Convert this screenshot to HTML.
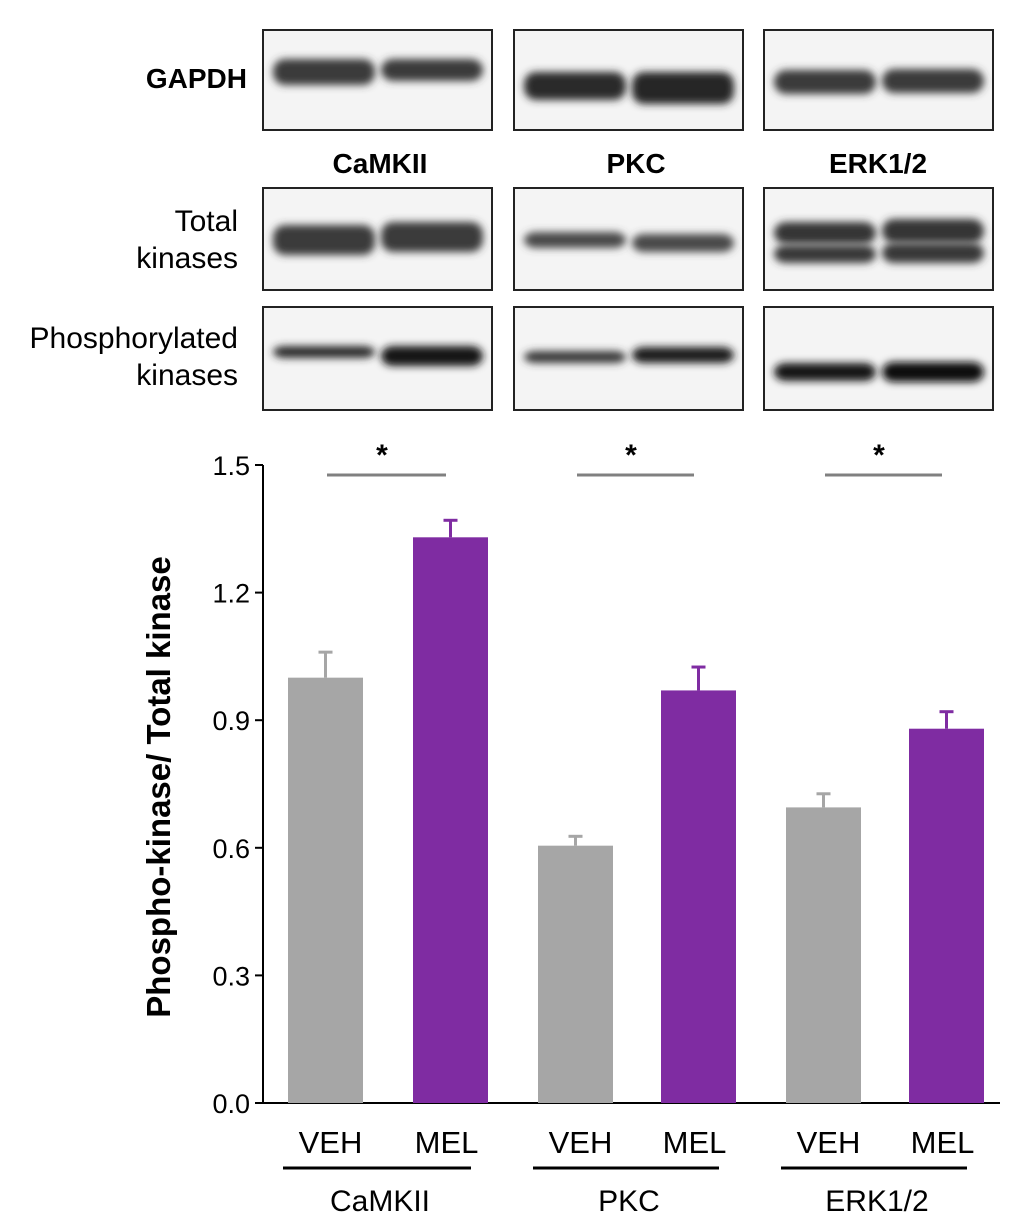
<!DOCTYPE html>
<html><head><meta charset="utf-8"><style>
body{margin:0;background:#fff;}
svg{display:block;}
text{font-family:"Liberation Sans",Arial,sans-serif;}
</style></head><body>
<svg width="1024" height="1219" viewBox="0 0 1024 1219">
<defs><filter id="bl" x="-20%" y="-100%" width="140%" height="300%"><feGaussianBlur stdDeviation="4"/></filter></defs>
<g id="blots"></g>
<g font-weight="bold" font-size="30" text-anchor="end">
<text x="247" y="88" font-size="28">GAPDH</text>
<text x="238" y="231" font-weight="normal">Total</text>
<text x="238" y="268" font-weight="normal">kinases</text>
<text x="238" y="348" font-weight="normal">Phosphorylated</text>
<text x="238" y="385" font-weight="normal">kinases</text>
</g>
<g font-weight="bold" font-size="28" text-anchor="middle">
<text x="380" y="173">CaMKII</text>
<text x="636" y="173">PKC</text>
<text x="878" y="173">ERK1/2</text>
</g>
<g id="chart"></g>
<text transform="translate(170,787) rotate(-90)" font-size="33" font-weight="bold" text-anchor="middle">Phospho-kinase/ Total kinase</text>
</svg>
<script>
const groups=["CaMKII","PKC","ERK1/2"];
const conditions=["VEH","MEL"];
const means=[1.0,1.33,0.605,0.97,0.695,0.88];
const errs=[0.06,0.04,0.022,0.055,0.032,0.04];
const ticks=[0,0.3,0.6,0.9,1.2,1.5];
const NS="http://www.w3.org/2000/svg";
function mk(t,a,p){const e=document.createElementNS(NS,t);for(const k in a)e.setAttribute(k,a[k]);p.appendChild(e);return e;}
const y=v=>1103-v*(638/1.5);
const barX=[288,413,538,661,786,909],bw=75;
const chart=document.getElementById('chart');
let ax=mk('line',{x1:263,y1:465,x2:263,y2:1103,stroke:'#000','stroke-width':2},chart);


let xa=mk('line',{x1:263,y1:1103,x2:1000,y2:1103,stroke:'#000','stroke-width':2},chart);


ticks.forEach(t=>{
 let l=mk('line',{x1:255,y1:y(t),x2:263,y2:y(t),stroke:'#000','stroke-width':2},chart);
 
 
 let tx=mk('text',{x:250,y:y(t)+10,'font-size':27,'text-anchor':'end'},chart);
 tx.textContent=t.toFixed(1);
 
 
});
means.forEach((m,i)=>{
 const x=barX[i],c=i%2?'#7f2ca2':'#a6a6a6';
 const cx=x+bw/2;
 let e=mk('line',{x1:cx,y1:y(m),x2:cx,y2:y(m+errs[i]),stroke:c,'stroke-width':3},chart);
 
 
 let ec=mk('line',{x1:cx-7,y1:y(m+errs[i]),x2:cx+7,y2:y(m+errs[i]),stroke:c,'stroke-width':3},chart);
 
 
 let r=mk('rect',{x:x,y:y(m),width:bw,height:y(0)-y(m),fill:c},chart);
 
 
 let lb=mk('text',{x:cx+(i%2?-4:5),y:1153,'font-size':31,'text-anchor':'middle'},chart);
 lb.textContent=conditions[i%2];
 
 
});
groups.forEach((g,k)=>{
 const x1=barX[2*k]-5,x2=barX[2*k+1]+bw-17;
 let l=mk('line',{x1:x1,y1:1168,x2:x2,y2:1168,stroke:'#000','stroke-width':3},chart);
 
 
 let t=mk('text',{x:(x1+x2)/2+3,y:1211,'font-size':30,'text-anchor':'middle'},chart);
 t.textContent=g;
 
 
 let s=mk('line',{x1:x1+44,y1:475,x2:x2-25,y2:475,stroke:'#808080','stroke-width':3},chart);
 
 
 let st=mk('text',{x:(x1+x2)/2+5,y:465,'font-size':30,'font-weight':'bold','text-anchor':'middle'},chart);
 st.textContent='*';
 
 
});
const blots=document.getElementById('blots');
const bx=[263,514,764],rows=[[30,130],[188,290],[307,410]];
const bands=[
 [[[72,'#3a3a3a',26],[70,'#3a3a3a',22]],[[86,'#2a2a2a',28],[88,'#262626',32]],[[82,'#3a3a3a',24],[81,'#3a3a3a',24]]],
 [[[240,'#3a3a3a',30],[237,'#3a3a3a',30]],[[240,'#4a4a4a',16],[243,'#4a4a4a',18]],[[233,'#353535',22],[231,'#353535',24],[254,'#383838',18],[253,'#383838',20]]],
 [[[352,'#2a2a2a',12],[356,'#181818',20]],[[357,'#383838',12],[355,'#1a1a1a',16]],[[372,'#161616',18],[372,'#080808',20]]]
];
rows.forEach((r,ri)=>bx.forEach((x,ci)=>{
 let b=mk('rect',{x:x,y:r[0],width:229,height:r[1]-r[0],fill:'#f4f4f4',stroke:'#222','stroke-width':2},blots);
 
 
 bands[ri][ci].forEach((bd,j)=>{
  const lane=j%2,lx=x+10+lane*108;
  let e=mk('rect',{x:lx,y:bd[0]-bd[2]/2,width:102,height:bd[2],rx:12,fill:bd[1],filter:'url(#bl)'},blots);
  
  
 });
}));
</script>
</body></html>
